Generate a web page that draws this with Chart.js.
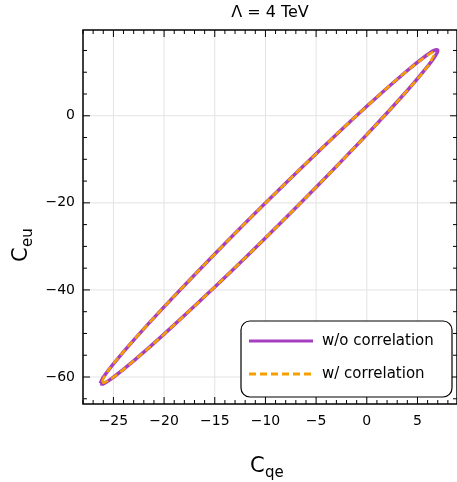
<!DOCTYPE html>
<html><head><meta charset="utf-8">
<script src="https://cdn.jsdelivr.net/npm/chart.js"></script>
<style>html,body{margin:0;padding:0;background:#fff}</style>
</head><body>
<canvas id="c" width="457" height="482"></canvas>
<script>
const titleText = "Λ = 4 TeV";
const xTicks = [-25,-20,-15,-10,-5,0,5];
const yTicks = [0,-20,-40,-60];
const seriesNames = ["w/o correlation","w/ correlation"];
// closed contour: upper edge left->right, lower edge right->left
const woX = [-26.3,-26,-25,-23,-20,-15,-10,-5,0,4,6,6.7,7.0,6.7,6,4,0,-5,-10,-15,-20,-23,-25,-26,-26.3];
const woY = [-61.5,-60.05,-56.96,-51.52,-43.89,-31.75,-20.05,-8.73,2.18,10.39,14.07,15.07,15.0,13.55,11.33,5.81,-4.34,-16.41,-28.05,-39.33,-50.15,-56.30,-60.06,-61.57,-61.5];
const wX = [-26.1,-25.9,-25,-23,-20,-15,-10,-5,0,4,6,6.5,6.7,6.5,6,4,0,-5,-10,-15,-20,-23,-25,-25.9,-26.1];
const wY = [-61.2,-59.9,-56.96,-51.52,-43.89,-31.75,-20.05,-8.73,2.18,10.39,13.9,14.6,14.4,13.4,11.33,5.81,-4.34,-16.41,-28.05,-39.33,-50.15,-56.30,-60.06,-61.3,-61.2];
const toPts=(xs,ys)=>xs.map((x,i)=>({x:x,y:ys[i]}));
const F='"DejaVu Sans", sans-serif';
const deco={id:'deco',
 beforeDatasetsDraw(ch){const c=ch.ctx,xs=ch.scales.x,ys=ch.scales.y,a=ch.chartArea;
  c.save();c.strokeStyle='#e3e3e3';c.lineWidth=1;
  xTicks.forEach(v=>{const p=xs.getPixelForValue(v);c.beginPath();c.moveTo(p,a.top);c.lineTo(p,a.bottom);c.stroke();});
  yTicks.forEach(v=>{const p=ys.getPixelForValue(v);c.beginPath();c.moveTo(a.left,p);c.lineTo(a.right,p);c.stroke();});
  c.restore();},
 afterDraw(ch){const c=ch.ctx,xs=ch.scales.x,ys=ch.scales.y,a=ch.chartArea;
  c.save();c.strokeStyle='#000';c.lineWidth=1.5;c.strokeRect(a.left,a.top,a.right-a.left,a.bottom-a.top);
  c.lineWidth=1;
  for(let v=-28;v<=8;v++){const p=xs.getPixelForValue(v);const L=(v%5===0)?7:4;
   c.beginPath();c.moveTo(p,a.bottom);c.lineTo(p,a.bottom-L);c.moveTo(p,a.top);c.lineTo(p,a.top+L);c.stroke();}
  for(let v=-65;v<=15;v+=5){const p=ys.getPixelForValue(v);const L=(v%20===0)?7:4;
   c.beginPath();c.moveTo(a.left,p);c.lineTo(a.left+L,p);c.moveTo(a.right,p);c.lineTo(a.right-L,p);c.stroke();}
  c.fillStyle='#000';c.font='14px '+F;c.textAlign='center';c.textBaseline='top';
  xTicks.forEach(v=>c.fillText(String(v).replace('-','\u2212'),xs.getPixelForValue(v),a.bottom+10));
  c.textAlign='right';c.textBaseline='middle';
  yTicks.forEach(v=>c.fillText(String(v).replace('-','\u2212'),a.left-8,ys.getPixelForValue(v)));
  c.font='16px '+F;c.textAlign='center';c.textBaseline='middle';c.fillText(titleText,(a.left+a.right)/2,13);
  c.font='21px '+F;c.textAlign='left';c.textBaseline='alphabetic';
  c.fillText('C',250,472);c.font='15px '+F;c.fillText('qe',265,477);
  c.save();c.translate(27,240);c.rotate(-Math.PI/2);c.font='21px '+F;c.fillText('C',-22,0);c.font='15px '+F;c.fillText('eu',-7,5);c.restore();
  const bx=241,by=321,bw=211,bh=76,r=9;
  c.fillStyle='#fff';c.strokeStyle='#000';c.lineWidth=1.2;c.beginPath();
  c.moveTo(bx+r,by);c.arcTo(bx+bw,by,bx+bw,by+bh,r);c.arcTo(bx+bw,by+bh,bx,by+bh,r);c.arcTo(bx,by+bh,bx,by,r);c.arcTo(bx,by,bx+bw,by,r);c.closePath();c.fill();c.stroke();
  c.lineWidth=3;c.strokeStyle='#a53fbf';c.beginPath();c.moveTo(249,341);c.lineTo(313,341);c.stroke();
  c.strokeStyle='#f5a000';c.setLineDash([7,4]);c.beginPath();c.moveTo(249,374);c.lineTo(313,374);c.stroke();c.setLineDash([]);
  c.fillStyle='#000';c.font='15px '+F;c.textAlign='left';c.textBaseline='middle';
  c.fillText(seriesNames[0],322,341);c.fillText(seriesNames[1],322,374);
  c.restore();}
};
new Chart(document.getElementById('c'),{type:'scatter',
 data:{datasets:[
  {label:seriesNames[0],order:2,data:toPts(woX,woY),showLine:true,borderColor:'#a53fbf',borderWidth:3.5,pointRadius:0,tension:0.4,fill:false},
  {label:seriesNames[1],order:1,data:toPts(wX,wY),showLine:true,borderColor:'#f5a000',borderWidth:2.5,borderDash:[7,4],pointRadius:0,tension:0.4,fill:false}]},
 options:{responsive:false,animation:false,devicePixelRatio:1,
  layout:{padding:{left:83,right:0,top:30,bottom:78}},
  plugins:{legend:{display:false},tooltip:{enabled:false}},
  scales:{x:{type:'linear',min:-28,max:8.9,display:false},y:{type:'linear',min:-66.2,max:19.7,display:false}}},
 plugins:[deco]});
</script></body></html>
